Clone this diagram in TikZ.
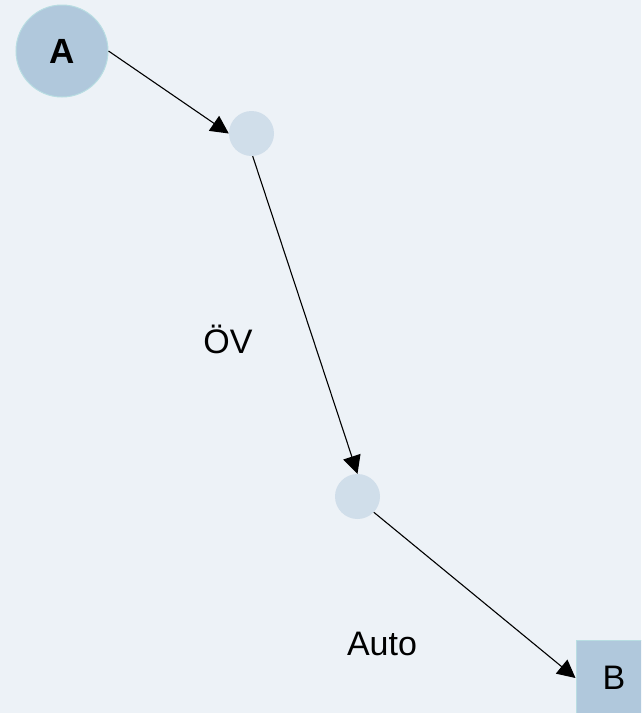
\documentclass[tikz,border=0pt]{standalone}
\usepackage{fontspec}
\setmainfont{Liberation Sans}
\usetikzlibrary{arrows.meta}
\definecolor{bg}{HTML}{EDF2F7}
\definecolor{bigfill}{HTML}{B0C8DC}
\definecolor{bigline}{HTML}{B8DDE2}
\definecolor{smallfill}{HTML}{D0DEEA}
\tikzset{
  bignode/.style={circle, fill=bigfill, draw=bigline, line width=1pt, minimum size=92pt, inner sep=0pt, font=\fontsize{35}{40}\selectfont\bfseries},
  waypoint/.style={circle, fill=smallfill, draw=none, minimum size=45pt, inner sep=0pt},
  boxnode/.style={rectangle, fill=bigfill, draw=bigline, line width=1pt, minimum size=76pt, inner sep=0pt, font=\fontsize{34}{40}\selectfont},
  conn/.style={-{Triangle[length=18pt,width=18pt]}, line width=1.1pt, black},
  lab/.style={font=\fontsize{34}{40}\selectfont, inner sep=0pt, anchor=base}
}
\begin{document}
\begin{tikzpicture}[x=1pt,y=-1pt]
\useasboundingbox (0,0) rectangle (641,713);
\fill[bg] (0,0) rectangle (641,713);
\clip (0,0) rectangle (641,713);
\node[bignode] (A) at (62,51) {A};
\node[waypoint] (w1) at (251.5,133.5) {};
\node[waypoint] (w2) at (357.5,496.5) {};
\node[boxnode] (B) at (614,678) {B};
\node[lab] (ov) at (228,353) {ÖV};
\node[lab] (auto) at (382,655) {Auto};
\draw[conn] (A.east) -- (w1.180);
\draw[conn] (w1.-87) -- (w2.90);
\draw[conn] (w2.-44) -- (B.west);
\end{tikzpicture}
\end{document}
